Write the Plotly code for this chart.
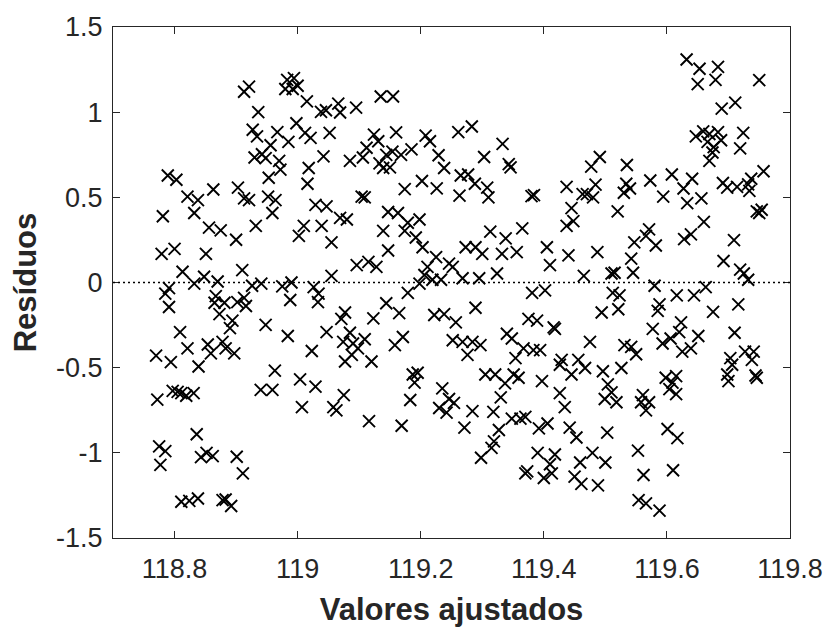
import plotly.graph_objects as go

# (fitted value, residual) pairs, grouped by region of the plot
upper_left = [
    (118.921, 1.15), (118.913, 1.12), (118.936, 1.00), (118.983, 1.19), (118.994, 1.20),
    (119.000, 1.155), (118.980, 1.136), (118.992, 1.136), (119.015, 1.063), (119.038, 1.002),
    (119.046, 1.011), (118.927, 0.897), (118.934, 0.858), (118.967, 0.883), (118.985, 0.826),
    (118.998, 0.935), (119.012, 0.878), (119.021, 0.849), (119.052, 0.878), (118.956, 0.806),
    (118.930, 0.734), (118.942, 0.753), (118.948, 0.730), (118.970, 0.714), (118.972, 0.663),
    (118.953, 0.615), (119.018, 0.672), (119.016, 0.580), (119.042, 0.740), (118.789, 0.628),
    (118.803, 0.603), (118.821, 0.504), (118.838, 0.484), (118.863, 0.546), (118.903, 0.557),
    (118.913, 0.494), (118.921, 0.484), (118.952, 0.504), (118.964, 0.484),
]
upper_mid = [
    (119.066, 1.050), (119.069, 0.998), (119.095, 1.027), (119.135, 1.092), (119.155, 1.092),
    (119.124, 0.868), (119.160, 0.881), (119.112, 0.791), (119.131, 0.829), (119.085, 0.714),
    (119.106, 0.734), (119.133, 0.699), (119.139, 0.672), (119.144, 0.749), (119.154, 0.768),
    (119.150, 0.676), (119.168, 0.749), (119.185, 0.782), (119.208, 0.862), (119.215, 0.829),
    (119.229, 0.747), (119.238, 0.672), (119.174, 0.548), (119.202, 0.596), (119.226, 0.553),
    (119.261, 0.883), (119.283, 0.916), (119.265, 0.628), (119.277, 0.634), (119.288, 0.580),
    (119.308, 0.557), (119.310, 0.500), (119.263, 0.510), (119.303, 0.737), (119.333, 0.814),
    (119.343, 0.695), (119.346, 0.676), (119.380, 0.507), (119.384, 0.513), (119.104, 0.504),
    (119.109, 0.500),
]
upper_right = [
    (119.632, 1.309), (119.653, 1.255), (119.683, 1.266), (119.650, 1.165), (119.679, 1.190),
    (119.750, 1.188), (119.711, 1.056), (119.689, 1.021), (119.647, 0.858), (119.659, 0.887),
    (119.669, 0.872), (119.683, 0.883), (119.688, 0.835), (119.666, 0.826), (119.676, 0.795),
    (119.674, 0.763), (119.669, 0.714), (119.724, 0.878), (119.719, 0.787), (119.491, 0.737),
    (119.477, 0.680), (119.535, 0.690), (119.437, 0.561), (119.484, 0.575), (119.463, 0.519),
    (119.470, 0.519), (119.480, 0.500), (119.534, 0.580), (119.540, 0.552), (119.530, 0.527),
    (119.573, 0.599), (119.608, 0.634), (119.594, 0.504), (119.627, 0.552), (119.641, 0.609),
    (119.656, 0.494), (119.691, 0.584), (119.698, 0.557), (119.714, 0.561), (119.732, 0.576),
    (119.737, 0.609), (119.734, 0.538), (119.757, 0.653),
]
middle_left = [
    (119.029, 0.456), (119.047, 0.447), (118.959, 0.408), (118.781, 0.389), (118.832, 0.408),
    (118.856, 0.322), (118.875, 0.306), (118.900, 0.251), (118.932, 0.332), (119.010, 0.332),
    (119.002, 0.274), (119.039, 0.332), (119.055, 0.236), (118.779, 0.168), (118.800, 0.197),
    (118.851, 0.168), (118.813, 0.063), (118.910, 0.073), (118.832, -0.007), (118.848, 0.034),
    (118.870, 0.006), (118.926, -0.019), (118.941, -0.007), (118.975, -0.023), (118.990, 0.000),
    (119.026, -0.027), (119.034, -0.065), (119.055, 0.039), (118.791, -0.033), (118.785, -0.065),
    (118.791, -0.144), (118.867, -0.080), (118.865, -0.119), (118.881, -0.119), (118.902, -0.115),
    (118.913, -0.090), (118.916, -0.138), (118.988, -0.103), (119.033, -0.115), (118.873, -0.186),
    (118.894, -0.224), (118.890, -0.268), (118.948, -0.249), (118.809, -0.291), (118.984, -0.314),
    (119.047, -0.291), (118.821, -0.387), (118.770, -0.429), (118.794, -0.467), (118.854, -0.364),
    (118.859, -0.416), (118.878, -0.349), (118.883, -0.387), (118.897, -0.416), (118.839, -0.493),
    (119.023, -0.402), (118.963, -0.517),
]
middle_mid = [
    (119.069, 0.379), (119.080, 0.370), (119.147, 0.414), (119.163, 0.408), (119.179, 0.351),
    (119.198, 0.370), (119.174, 0.303), (119.192, 0.264), (119.203, 0.207), (119.139, 0.303),
    (119.147, 0.188), (119.096, 0.102), (119.115, 0.121), (119.128, 0.092), (119.225, 0.149),
    (119.211, 0.092), (119.206, 0.044), (119.246, 0.111), (119.252, 0.092), (119.219, 0.016),
    (119.233, 0.016), (119.198, -0.007), (119.179, -0.061), (119.268, 0.025), (119.295, 0.025),
    (119.324, 0.053), (119.273, 0.207), (119.289, 0.207), (119.300, 0.168), (119.313, 0.299),
    (119.338, 0.259), (119.365, 0.318), (119.332, 0.168), (119.356, 0.178), (119.405, 0.207),
    (119.410, 0.102), (119.381, -0.061), (119.402, -0.046), (119.289, -0.148), (119.144, -0.122),
    (119.165, -0.180), (119.077, -0.176), (119.071, -0.214), (119.123, -0.211), (119.222, -0.191),
    (119.238, -0.186), (119.257, -0.234), (119.375, -0.214), (119.389, -0.224), (119.416, -0.263),
    (119.418, -0.272), (119.085, -0.295), (119.074, -0.349), (119.090, -0.358), (119.098, -0.387),
    (119.109, -0.333), (119.088, -0.425), (119.077, -0.464), (119.120, -0.464), (119.158, -0.368),
    (119.171, -0.320), (119.252, -0.339), (119.268, -0.349), (119.276, -0.425), (119.284, -0.349),
    (119.297, -0.368), (119.340, -0.301), (119.348, -0.329), (119.367, -0.387), (119.383, -0.397),
    (119.394, -0.397), (119.354, -0.444),
]
middle_right = [
    (119.445, 0.437), (119.633, 0.466), (119.746, 0.418), (119.754, 0.427), (119.750, 0.408),
    (119.520, 0.418), (119.437, 0.332), (119.448, 0.360), (119.571, 0.312), (119.566, 0.274),
    (119.582, 0.217), (119.547, 0.236), (119.628, 0.255), (119.639, 0.283), (119.660, 0.356),
    (119.709, 0.249), (119.440, 0.159), (119.487, 0.178), (119.542, 0.140), (119.545, 0.057),
    (119.510, 0.053), (119.515, 0.057), (119.465, 0.039), (119.692, 0.126), (119.719, 0.076),
    (119.725, 0.053), (119.732, 0.016), (119.580, -0.019), (119.663, -0.027), (119.512, -0.061),
    (119.523, -0.076), (119.616, -0.076), (119.644, -0.076), (119.588, -0.128), (119.585, -0.167),
    (119.716, -0.128), (119.494, -0.176), (119.521, -0.157), (119.675, -0.172), (119.623, -0.234),
    (119.577, -0.272), (119.710, -0.295), (119.475, -0.349), (119.531, -0.368), (119.542, -0.378),
    (119.550, -0.421), (119.593, -0.358), (119.606, -0.329), (119.620, -0.291), (119.625, -0.406),
    (119.639, -0.387), (119.651, -0.314), (119.429, -0.454), (119.426, -0.483), (119.456, -0.454),
    (119.467, -0.502), (119.727, -0.406), (119.741, -0.406), (119.738, -0.454), (119.703, -0.444),
    (119.706, -0.483), (119.496, -0.521), (119.526, -0.502),
]
lower_left = [
    (119.004, -0.569), (119.029, -0.611), (118.940, -0.630), (118.959, -0.630), (118.797, -0.636),
    (118.805, -0.642), (118.811, -0.649), (118.819, -0.665), (118.831, -0.649), (118.772, -0.688),
    (119.007, -0.732), (119.058, -0.732), (118.836, -0.891), (118.775, -0.962), (118.785, -0.990),
    (118.777, -1.071), (118.843, -1.025), (118.852, -1.000), (118.862, -1.019), (118.901, -1.023),
    (118.911, -1.121), (118.811, -1.287), (118.824, -1.282), (118.838, -1.268), (118.878, -1.278),
    (118.883, -1.274), (118.892, -1.312),
]
lower_mid = [
    (119.187, -0.540), (119.195, -0.530), (119.190, -0.588), (119.075, -0.661), (119.063, -0.751),
    (119.116, -0.814), (119.183, -0.690), (119.169, -0.841), (119.235, -0.622), (119.246, -0.684),
    (119.254, -0.707), (119.230, -0.737), (119.242, -0.764), (119.284, -0.755), (119.271, -0.852),
    (119.305, -0.540), (119.321, -0.540), (119.337, -0.592), (119.330, -0.674), (119.318, -0.760),
    (119.351, -0.540), (119.359, -0.559), (119.397, -0.579), (119.348, -0.799), (119.362, -0.799),
    (119.370, -0.789), (119.392, -0.856), (119.406, -0.828), (119.327, -0.866), (119.319, -0.933),
    (119.315, -0.971), (119.298, -1.029), (119.390, -1.000), (119.418, -1.010), (119.410, -1.067),
    (119.373, -1.109), (119.370, -1.121), (119.400, -1.148), (119.413, -1.121),
]
lower_right = [
    (119.445, -0.540), (119.598, -0.559), (119.609, -0.588), (119.615, -0.550), (119.604, -0.626),
    (119.615, -0.655), (119.698, -0.540), (119.700, -0.579), (119.744, -0.546), (119.746, -0.559),
    (119.426, -0.649), (119.434, -0.732), (119.504, -0.598), (119.510, -0.645), (119.499, -0.684),
    (119.518, -0.703), (119.561, -0.661), (119.558, -0.703), (119.571, -0.703), (119.566, -0.751),
    (119.442, -0.852), (119.453, -0.910), (119.503, -0.881), (119.601, -0.860), (119.617, -0.914),
    (119.553, -0.987), (119.459, -1.057), (119.479, -1.000), (119.500, -1.057), (119.450, -1.140),
    (119.461, -1.182), (119.488, -1.191), (119.562, -1.130), (119.610, -1.102), (119.554, -1.278),
    (119.566, -1.297), (119.588, -1.339),
]

regions = [upper_left, upper_mid, upper_right, middle_left, middle_mid,
           middle_right, lower_left, lower_mid, lower_right]
fitted = [p[0] for r in regions for p in r]
residuals = [p[1] for r in regions for p in r]

x_ticks = [118.8, 119.0, 119.2, 119.4, 119.6, 119.8]
x_labels = ["118.8", "119", "119.2", "119.4", "119.6", "119.8"]
y_ticks = [-1.5, -1.0, -0.5, 0.0, 0.5, 1.0, 1.5]
y_labels = ["-1.5", "-1", "-0.5", "0", "0.5", "1", "1.5"]

FONT = "Liberation Sans, Arial, Helvetica, sans-serif"
AX = "#262626"

fig = go.Figure()
fig.add_trace(go.Scatter(
    x=fitted, y=residuals, mode="markers",
    marker=dict(symbol="x-thin", size=12, color="black",
                line=dict(width=1.9, color="black")),
    showlegend=False, hoverinfo="skip",
))
fig.add_shape(type="line", xref="paper", x0=0, x1=1, yref="y", y0=0, y1=0,
              line=dict(color="black", width=1.3, dash="2px,3px"))

common = dict(showline=True, linecolor=AX, linewidth=1, mirror="ticks",
              ticks="inside", ticklen=7, tickcolor=AX, tickwidth=1,
              showgrid=False, zeroline=False,
              tickfont=dict(family=FONT, size=27, color=AX))

fig.update_layout(
    width=835, height=632,
    margin=dict(l=113, r=40, t=20, b=89),
    paper_bgcolor="white", plot_bgcolor="white",
    xaxis=dict(range=[118.7, 119.8], tickvals=x_ticks, ticktext=x_labels,
               ticklabelstandoff=7,
               title=dict(text="Valores ajustados", standoff=14,
                          font=dict(family=FONT, size=31, color=AX, weight="bold")),
               **common),
    yaxis=dict(range=[-1.5, 1.5], tickvals=y_ticks, ticktext=y_labels,
               ticklabelstandoff=4,
               title=dict(text="Resíduos", standoff=10,
                          font=dict(family=FONT, size=31, color=AX, weight="bold")),
               **common),
)

fig.write_html("out.html")
